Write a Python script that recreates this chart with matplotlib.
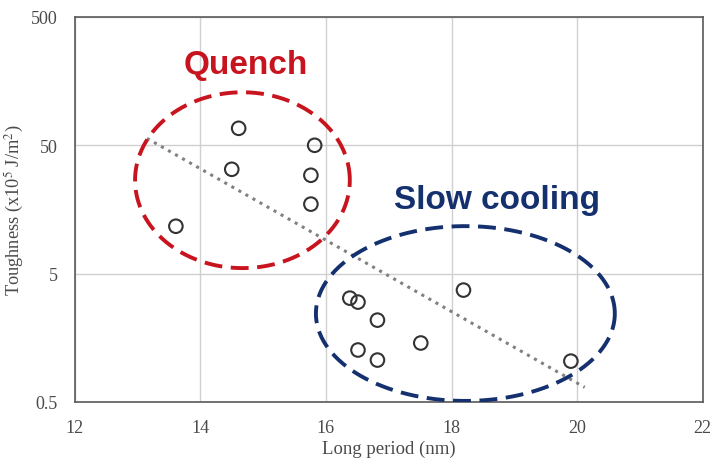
import numpy as np
import matplotlib.pyplot as plt

plt.rcParams['font.family'] = ['Liberation Serif', 'DejaVu Serif']
plt.rcParams['mathtext.fontset'] = 'stix'

# Toughness vs long period, quenched and slow-cooled samples
quench_period = [13.61, 14.61, 14.50, 15.82, 15.76, 15.76]
quench_tough = [11.7, 67.8, 32.5, 50.0, 29.2, 17.4]
slow_period = [16.38, 16.51, 16.82, 16.51, 16.82, 17.51, 18.19, 19.90]
slow_tough = [3.22, 3.0, 2.17, 1.27, 1.06, 1.44, 3.72, 1.04]

# fitted trend (end points)
trend_period = [13.15, 20.12]
trend_tough = [56.6, 0.65]

# group outlines: centre x, centre log10(y), half-width, half-height (decades)
quench_group = (14.67, 1.427, 1.71, 0.685)
slow_group = (18.22, 0.388, 2.38, 0.681)

xticks = [12, 14, 16, 18, 20, 22]
yticks = [0.5, 5, 50, 500]
ytick_labels = ['0.5', '5', '50', '500']

fig = plt.figure(figsize=(7.12, 4.6), dpi=100)
ax = fig.add_axes([0.105, 0.124, 0.882, 0.837])

ax.set_yscale('log')
ax.set_xlim(12, 22)
ax.set_ylim(0.5, 500)
ax.set_xticks(xticks)
ax.set_yticks(yticks)
ax.set_yticklabels(ytick_labels)
ax.minorticks_off()
ax.tick_params(length=0, labelsize=13, colors='#4a4a4a')
ax.tick_params(axis='x', pad=12)
ax.tick_params(axis='y', pad=12)
ax.grid(True, color='#d0d0d0', lw=1)
for side in ['left', 'bottom', 'top', 'right']:
    ax.spines[side].set_color('#5a5a5a')
    ax.spines[side].set_linewidth(1.2)

ax.plot(trend_period, trend_tough, ls=':', color='#808080', lw=2.2, zorder=2)

t = np.linspace(0, 2 * np.pi, 400)
for (cx, cy, a, b), col in [(quench_group, '#c8141e'), (slow_group, '#15306e')]:
    ax.plot(cx + a * np.cos(t), 10 ** (cy + b * np.sin(t)), color=col,
            lw=2.8, dashes=(4.6, 2.2), zorder=3)

ax.scatter(quench_period + slow_period, quench_tough + slow_tough, s=95,
           facecolors='none', edgecolors='#333333', linewidths=1.5, zorder=4)

ax.text(14.72, 10 ** (np.log10(0.5) + (403 - 65) / 128.5), 'Quench',
        color='#c8141e', fontsize=24, fontweight='bold', family='Liberation Sans',
        ha='center', va='center')
ax.text(18.72, 10 ** (np.log10(0.5) + (403 - 200) / 128.5), 'Slow cooling',
        color='#15306e', fontsize=24, fontweight='bold', family='Liberation Sans',
        ha='center', va='center')

ax.set_xlabel('Long period (nm)', fontsize=13.5, color='#4a4a4a', labelpad=3)
ax.set_ylabel(r'Toughness (x10$^5$ J/m$^2$)', fontsize=13.2, color='#4a4a4a', labelpad=4)

fig.savefig('out.png', dpi=100)
